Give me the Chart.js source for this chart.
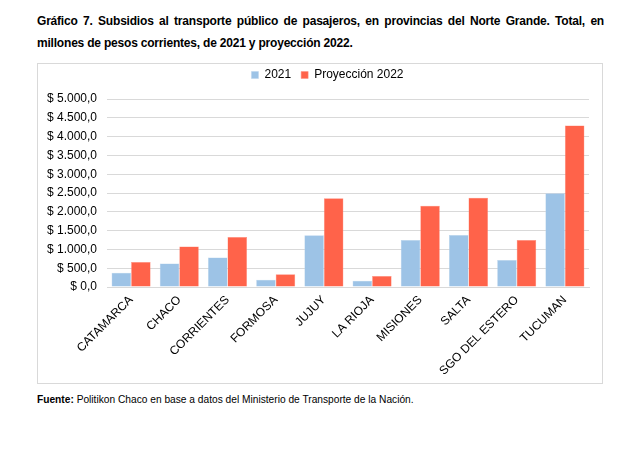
<!DOCTYPE html>
<html>
<head>
<meta charset="utf-8">
<script src="https://cdn.jsdelivr.net/npm/chart.js@4"></script>
<style>
  html, body { margin: 0; padding: 0; background: #fff; }
  body { width: 629px; height: 462px; position: relative; font-family: "Liberation Sans", Arial, sans-serif; }
  #title { position: absolute; left: 37px; top: 10px; width: 567px; font-weight: bold; font-size: 12px; letter-spacing: -0.2px; line-height: 22px; color: #000; }
  #title .l1 { text-align: justify; text-align-last: justify; white-space: nowrap; }
  #box { position: absolute; left: 37px; top: 63px; width: 564px; height: 319px; border: 1px solid #d9d9d9; }
  #box canvas { display: block; }
  #src { position: absolute; left: 37px; top: 394px; font-size: 10.2px; color: #000; }
</style>
</head>
<body>
<div id="title"><div class="l1">Gráfico 7. Subsidios al transporte público de pasajeros, en provincias del Norte Grande. Total, en</div><div>millones de pesos corrientes, de 2021 y proyección 2022.</div></div>
<div id="box"><canvas id="c" width="564" height="319"></canvas></div>
<div id="src"><b>Fuente:</b> Politikon Chaco en base a datos del Ministerio de Transporte de la Nación.</div>
<script>
const categories = ["CATAMARCA", "CHACO", "CORRIENTES", "FORMOSA", "JUJUY", "LA RIOJA", "MISIONES", "SALTA", "SGO DEL ESTERO", "TUCUMAN"];
const series2021 = [382, 622, 782, 195, 1377, 169, 1252, 1385, 719, 2496];
const series2022 = [666, 1075, 1332, 337, 2362, 293, 2158, 2371, 1252, 4298];
const seriesNames = ["2021", "Proyección 2022"];
const yTicks = [0, 500, 1000, 1500, 2000, 2500, 3000, 3500, 4000, 4500, 5000];

function fmt(v) {
  const s = Math.round(v).toString().replace(/\B(?=(\d{3})+(?!\d))/g, ".");
  return "$ " + s + ",0";
}

const legendExtra = {
  id: "legendExtra",
  beforeLayout(chart) {
    const lg = chart.legend;
    if (lg && !lg._patched) {
      const f = lg.fit;
      lg.fit = function () { f.call(this); this.height += 8; };
      const d = lg.draw;
      lg.draw = function () {
        this.left += 14; this.right += 14;
        d.call(this);
        this.left -= 14; this.right -= 14;
      };
      lg._patched = true;
    }
  }
};

new Chart(document.getElementById("c"), {
  type: "bar",
  data: {
    labels: categories,
    datasets: [
      { label: seriesNames[0], data: series2021, backgroundColor: "#9DC3E6", borderColor: "#b8d3ec", borderWidth: 0.5 },
      { label: seriesNames[1], data: series2022, backgroundColor: "#FF634A", borderColor: "#ff8f7e", borderWidth: 0.5 }
    ]
  },
  plugins: [legendExtra],
  options: {
    responsive: false,
    animation: false,
    devicePixelRatio: 1,
    layout: { padding: { left: 0, right: 13, top: -5, bottom: 0 } },
    datasets: { bar: { categoryPercentage: 0.81, barPercentage: 1 } },
    plugins: {
      legend: {
        position: "top",
        labels: {
          boxWidth: 7, boxHeight: 7, padding: 10,
          font: { family: "Liberation Sans", size: 12 }, color: "#000"
        }
      },
      tooltip: { enabled: false }
    },
    scales: {
      x: {
        grid: { display: false, drawTicks: false },
        border: { color: "#d9d9d9" },
        ticks: { minRotation: 45, maxRotation: 45, autoSkip: false, padding: 6,
          font: { family: "Liberation Sans", size: 12 }, color: "#000" },
        afterFit: (s) => { s.height = 96; }
      },
      y: {
        min: 0, max: 5000,
        afterBuildTicks: (s) => { s.ticks = yTicks.map(v => ({ value: v })); },
        grid: { color: "#d9d9d9", drawTicks: false },
        border: { display: false },
        ticks: { padding: 10, callback: (v) => fmt(v),
          font: { family: "Liberation Sans", size: 12 }, color: "#000" },
        afterFit: (s) => { s.width = 69; }
      }
    }
  }
});
</script>
</body>
</html>
